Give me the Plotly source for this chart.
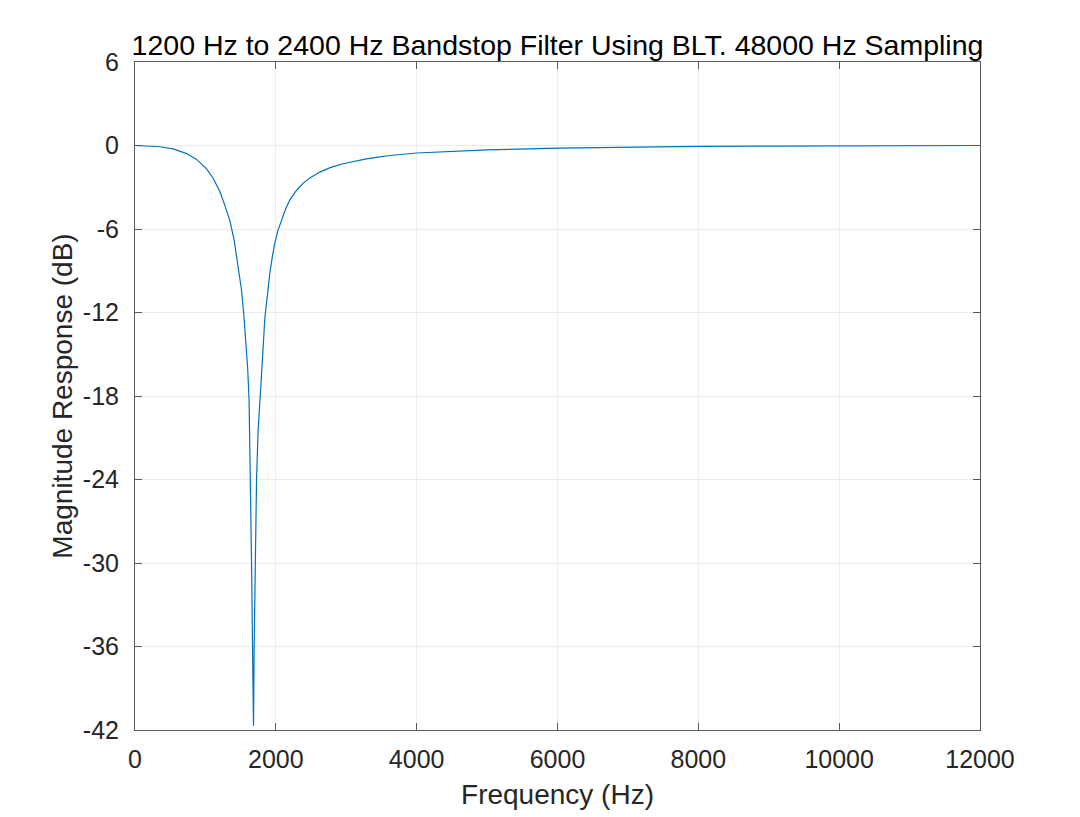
import plotly.graph_objs as go

# Magnitude response
freq_hz = [0, 200, 355, 543, 733, 875, 1017, 1110, 1205, 1276, 1347, 1408, 1465, 1513,
           1546, 1580, 1600, 1620, 1641, 1655, 1669, 1683, 1692, 1706, 1726, 1749, 1773,
           1800, 1844, 1880, 1915, 1950, 1986, 2030, 2081, 2140, 2199, 2290, 2388, 2500,
           2624, 2780, 2955, 3110, 3286, 3450, 3617, 4000, 4470, 5000, 6000, 7000, 8000,
           9000, 10000, 11000, 12000]
mag_db = [0, -0.03, -0.09, -0.24, -0.58, -1.0, -1.68, -2.35, -3.3, -4.3, -5.4, -6.8,
          -8.6, -10.4, -12.2, -14.3, -16.0, -18.3, -24.0, -30, -36, -41.7, -36, -30, -24,
          -20.4, -18.1, -16.2, -12.4, -10.6, -9.17, -8.0, -7.0, -6.1, -5.34, -4.55, -3.9,
          -3.25, -2.7, -2.28, -1.91, -1.57, -1.31, -1.12, -0.96, -0.83, -0.72, -0.54,
          -0.42, -0.32, -0.19, -0.12, -0.07, -0.04, -0.02, -0.01, 0]

x_ticks = [0, 2000, 4000, 6000, 8000, 10000, 12000]
x_labels = ['0', '2000', '4000', '6000', '8000', '10000', '12000']
y_ticks = [6, 0, -6, -12, -18, -24, -30, -36, -42]
y_labels = ['6', '0', '-6', '-12', '-18', '-24', '-30', '-36', '-42']

fig = go.Figure()
fig.add_trace(go.Scatter(x=freq_hz, y=mag_db, mode='lines',
                         line=dict(color="#0072BD", width=1.2), showlegend=False))

axis_style = dict(showline=True, linecolor="#5a5a5a", linewidth=1, mirror='ticks',
                  ticks='inside', ticklen=7, tickcolor="#5a5a5a",
                  showgrid=True, gridcolor="#ececec", gridwidth=1,
                  zeroline=False, tickfont=dict(size=25, color="#262626"))

fig.update_layout(
    width=1080, height=817,
    paper_bgcolor="white", plot_bgcolor="white",
    font=dict(family="Liberation Sans, Arial, sans-serif", color="#262626"),
    margin=dict(l=127, r=108, t=54, b=95),
    title=dict(text="1200 Hz to 2400 Hz Bandstop Filter Using BLT. 48000 Hz Sampling",
               x=0.5, xref='paper', xanchor='center',
               y=1, yref='paper', yanchor='bottom', pad=dict(b=7),
               font=dict(size=28.5, color="black")),
    xaxis=dict(range=[0, 12000], tickvals=x_ticks, ticktext=x_labels, ticklabelstandoff=7,
               title=dict(text="Frequency (Hz)", font=dict(size=28), standoff=12),
               **axis_style),
    yaxis=dict(range=[-42, 6], tickvals=y_ticks, ticktext=y_labels, ticklabelstandoff=10,
               title=dict(text="Magnitude Response (dB)", font=dict(size=28), standoff=2),
               **axis_style),
)

fig.write_html("out.html")
